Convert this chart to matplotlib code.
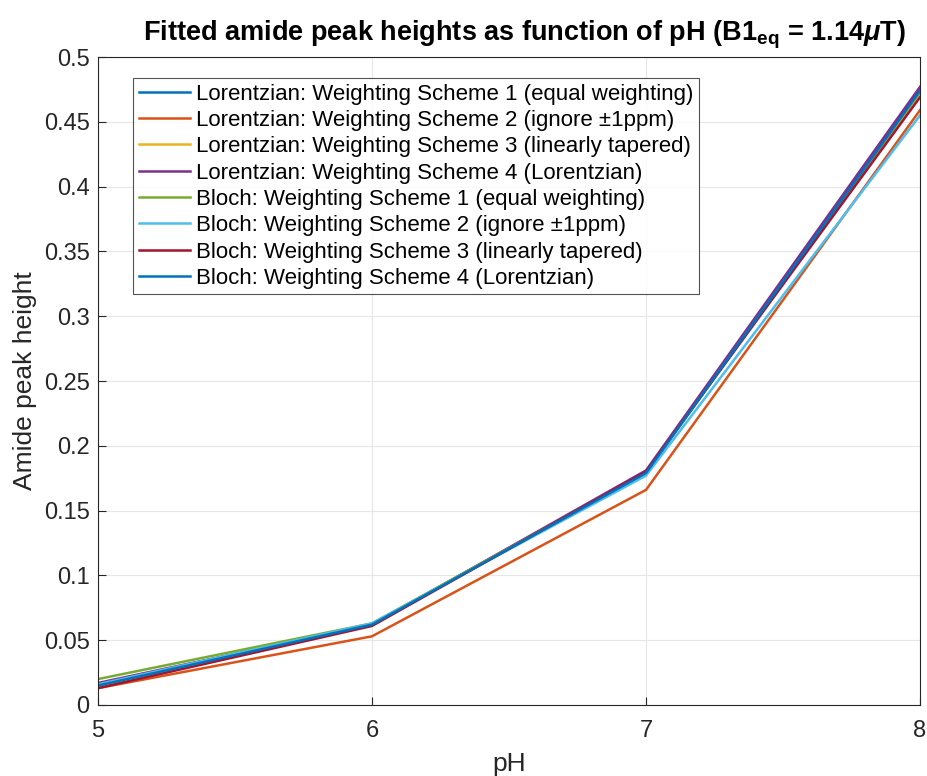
import numpy as np
import matplotlib
matplotlib.use("Agg")
from matplotlib import pyplot as plt
from matplotlib.ticker import FixedLocator, FixedFormatter

plt.rcParams['font.family'] = ['Liberation Sans', 'DejaVu Sans']
plt.rcParams['mathtext.fontset'] = 'custom'
plt.rcParams['mathtext.it'] = 'Liberation Sans:italic:bold'
plt.rcParams['mathtext.rm'] = 'Liberation Sans:bold'
plt.rcParams['mathtext.bf'] = 'Liberation Sans:bold'

# データ
ph = [5, 6, 7, 8]
labels = [
    "Lorentzian: Weighting Scheme 1 (equal weighting)",
    "Lorentzian: Weighting Scheme 2 (ignore \u00b11ppm)",
    "Lorentzian: Weighting Scheme 3 (linearly tapered)",
    "Lorentzian: Weighting Scheme 4 (Lorentzian)",
    "Bloch: Weighting Scheme 1 (equal weighting)",
    "Bloch: Weighting Scheme 2 (ignore \u00b11ppm)",
    "Bloch: Weighting Scheme 3 (linearly tapered)",
    "Bloch: Weighting Scheme 4 (Lorentzian)",
]
lor_ws1 = [0.015, 0.062, 0.180, 0.475]
lor_ws2 = [0.013, 0.053, 0.166, 0.459]
lor_ws3 = [0.014, 0.062, 0.180, 0.472]
lor_ws4 = [0.017, 0.062, 0.181, 0.477]
bloch_ws1 = [0.020, 0.063, 0.179, 0.473]
bloch_ws2 = [0.016, 0.063, 0.177, 0.455]
bloch_ws3 = [0.013, 0.061, 0.180, 0.469]
bloch_ws4 = [0.015, 0.062, 0.179, 0.474]
series = [lor_ws1, lor_ws2, lor_ws3, lor_ws4, bloch_ws1, bloch_ws2, bloch_ws3, bloch_ws4]
colors = ["#0072BD", "#D95319", "#EDB120", "#7E2F8E",
          "#77AC30", "#4DBEEE", "#A2142F", "#0072BD"]

yticks = [0, 0.05, 0.1, 0.15, 0.2, 0.25, 0.3, 0.35, 0.4, 0.45, 0.5]
ytick_labels = ["0", "0.05", "0.1", "0.15", "0.2", "0.25", "0.3", "0.35", "0.4", "0.45", "0.5"]

fig = plt.figure(figsize=(9.28, 7.76), dpi=100)
ax = fig.add_axes([0.1056, 0.0915, 0.8858, 0.835])

for y, c, lab in zip(series, colors, labels):
    ax.plot(ph, y, color=c, linewidth=1.8, label=lab)

ax.set_xlim(5, 8)
ax.set_ylim(0, 0.5)
ax.set_xticks(ph)
ax.yaxis.set_major_locator(FixedLocator(yticks))
ax.yaxis.set_major_formatter(FixedFormatter(ytick_labels))
ax.tick_params(direction="in", labelsize=17, colors="#262626", length=6, width=0.8, pad=6)
ax.tick_params(axis="x", pad=11)
ax.grid(True, color="#e6e6e6", linewidth=0.8)
ax.set_axisbelow(True)
for s in ax.spines.values():
    s.set_color("#262626")
    s.set_linewidth(0.8)

ax.set_xlabel("pH", fontsize=19, color="#262626", labelpad=7)
ax.set_ylabel("Amide peak height", fontsize=19, color="#262626", labelpad=5)
ax.set_title(r"Fitted amide peak heights as function of pH (B1$_{\mathrm{eq}}$ = 1.14$\mathit{\mu}$T)",
             fontsize=19.5, fontweight="bold", pad=12, x=0.519)

leg = ax.legend(loc="upper left", bbox_to_anchor=(0.0426, 0.9676), fontsize=16,
                frameon=True, fancybox=False, edgecolor="#262626",
                handlelength=2.3, handletextpad=0.3, labelspacing=0.24,
                borderpad=0.25, borderaxespad=0)
leg.get_frame().set_linewidth(0.8)

plt.savefig("out.png", dpi=100)
